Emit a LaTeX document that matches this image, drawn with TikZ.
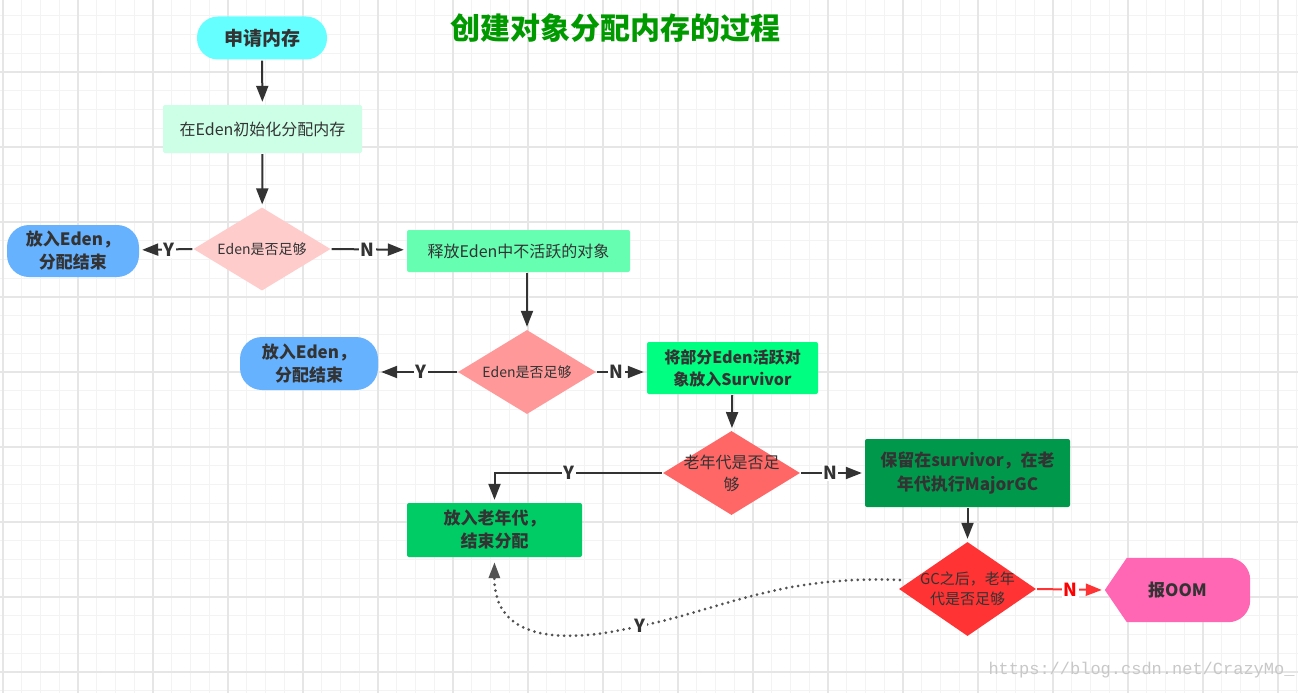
\documentclass[tikz,border=0pt]{standalone}
\usepackage{fontspec}
\setmainfont{Noto Sans CJK SC}
\setmonofont{Liberation Mono}
\usepackage{tikz}
\usetikzlibrary{arrows.meta}
\usetikzlibrary{shapes.geometric}
\definecolor{textgray}{HTML}{333333}
\definecolor{linegray}{HTML}{333333}
\definecolor{minorgrid}{HTML}{F3F3F3}
\definecolor{majorgrid}{HTML}{E6E6E6}
\definecolor{titlegreen}{HTML}{009900}
\definecolor{reqcyan}{HTML}{66FFFF}
\definecolor{initmint}{HTML}{CCFFE6}
\definecolor{chkpink}{HTML}{FFCCCC}
\definecolor{putblue}{HTML}{66B2FF}
\definecolor{relgreen}{HTML}{66FFB2}
\definecolor{chksalmon}{HTML}{FF9999}
\definecolor{survgreen}{HTML}{00FF80}
\definecolor{chkred}{HTML}{FF6666}
\definecolor{oldgreen}{HTML}{00CC66}
\definecolor{keepgreen}{HTML}{00994C}
\definecolor{chkdeep}{HTML}{FF3333}
\definecolor{oompink}{HTML}{FF66B3}
\definecolor{oomred}{HTML}{FF3333}
\definecolor{wmgray}{HTML}{C8C8C8}
\newcommand{\fs}[1]{\fontsize{#1}{#1}\selectfont}

\begin{document}
\begin{tikzpicture}[x=1pt, y=-1pt,
    box/.style={rectangle, rounded corners=2pt, text=textgray, align=center},
    term/.style={rectangle, rounded corners=21pt, text=textgray, align=center},
    decision/.style={diamond, inner sep=0pt, minimum width=137pt, minimum height=84pt},
    dtext/.style={text=textgray, align=center, font=\fontsize{15}{20}\selectfont},
    flow/.style={draw=linegray, line width=2pt, -{Triangle[length=16pt,width=12pt]}, shorten >=3pt, shorten <=1pt},
    yn/.style={fill=white, inner sep=1.5pt, text=textgray, font=\bfseries\fs{18}}]
        \useasboundingbox (0,0) rectangle (1298,693);
        \fill[white] (0,0) rectangle (1298,693);

        % grid
        \foreach \k in {0,...,69}
            \draw[minorgrid, line width=1pt] ({3+18.75*\k},0) -- ({3+18.75*\k},693);
        \foreach \k in {0,...,36}
            \draw[minorgrid, line width=1pt] (0,{15.75+18.75*\k}) -- (1298,{15.75+18.75*\k});
        \foreach \k in {0,...,17}
            \draw[majorgrid, line width=1.6pt] ({3+75*\k},0) -- ({3+75*\k},693);
        \foreach \k in {0,...,8}
            \draw[majorgrid, line width=1.6pt] (0,{72+75*\k}) -- (1298,{72+75*\k});

        \node[text=titlegreen, font=\bfseries\fs{30}] (title) at (615,28) {创建对象分配内存的过程};

        % row1
        \node[term, fill=reqcyan, minimum width=130pt, minimum height=43pt, font=\bfseries\fs{19}] (req) at (262,38) {申请内存};
        \node[box, fill=initmint, minimum width=199pt, minimum height=48pt, font=\fs{16}] (init) at (262.5,129) {在Eden初始化分配内存};

        % row2
        \node[decision, fill=chkpink, minimum height=83pt, label={[dtext, font=\fs{14}]center:Eden是否足够}] (chk1) at (262,249) {};
        \node[term, fill=putblue, rounded corners=22pt, minimum width=132pt, minimum height=52pt, font=\bfseries\fontsize{17}{23}\selectfont] (put1) at (73,251) {放入Eden，\\分配结束};
        \node[box, fill=relgreen, minimum width=223pt, minimum height=42pt, font=\fs{16}] (rel) at (518.5,251) {释放Eden中不活跃的对象};

        % row3
        \node[decision, fill=chksalmon, minimum width=138pt, label={[dtext, font=\fs{14}]center:Eden是否足够}] (chk2) at (527,372) {};
        \node[term, fill=putblue, rounded corners=22pt, minimum width=138pt, minimum height=53pt, font=\bfseries\fontsize{17}{23}\selectfont] (put2) at (309,363.5) {放入Eden，\\分配结束};
        \node[box, fill=survgreen, minimum width=171pt, minimum height=52pt, font=\bfseries\fontsize{16}{22}\selectfont] (surv) at (732.5,368) {将部分Eden活跃对\\象放入Survivor};

        % row4
        \node[decision, fill=chkred, label={[dtext, font=\fontsize{16}{22}\selectfont]center:老年代是否足\\够}] (chk3) at (731.5,473) {};
        \node[box, fill=oldgreen, minimum width=175pt, minimum height=54pt, font=\bfseries\fontsize{17}{23}\selectfont] (old) at (494.5,530) {放入老年代，\\结束分配};
        \node[box, fill=keepgreen, minimum width=205pt, minimum height=68pt, font=\bfseries\fontsize{17}{24}\selectfont] (keep) at (967.5,473) {保留在survivor，在老\\年代执行MajorGC};

        % row5
        \node[decision, fill=chkdeep, minimum height=94pt, label={[dtext, font=\fontsize{15}{20}\selectfont]center:GC之后，老年\\代是否足够}] (chk4) at (967.5,589) {};
        \node[minimum width=145pt, minimum height=64pt, inner sep=0pt] (oom) at (1177.5,590) {};
        \fill[oompink] (oom.west) -- ([xshift=22pt]oom.north west) -- ([xshift=-22pt]oom.north east)
            arc[start angle=90, end angle=0, radius=22pt] -- ([yshift=22pt]oom.south east)
            arc[start angle=0, end angle=-90, radius=22pt] -- ([xshift=22pt]oom.south west) -- cycle;
        \node[text=textgray, font=\bfseries\fs{17}] at (oom) {报OOM};

        % arrows
        \draw[flow] (req) -- (init);
        \draw[flow] (init) -- (chk1);
        \draw[flow] (chk1.west) -- node[yn, pos=0.45] {Y} (put1);
        \draw[flow] (chk1.east) -- node[yn, pos=0.48] {N} (rel);
        \draw[flow] (chk2.north |- rel.south) -- (chk2);
        \draw[flow] (chk2.west) -- node[yn, pos=0.46] {Y} (put2.east |- chk2.west);
        \draw[flow] (chk2.east) -- node[yn, pos=0.40] {N} (surv.west |- chk2.east);
        \draw[flow] (surv) -- (chk3);
        \draw[flow] (chk3.west) -| node[yn, pos=0.28] {Y} (old.north);
        \draw[flow] (chk3.east) -- node[yn, pos=0.46] {N} (keep.west |- chk3.east);
        \draw[flow] (keep) -- (chk4);
        \draw[flow, draw=oomred, -{Triangle[length=16pt,width=12pt,fill=oomred]}] (chk4.east) -- node[yn, text=red, pos=0.5] {N} (oom.west);
        \draw[draw=linegray!85, line width=3pt, line cap=round, dash pattern=on 0pt off 6pt,
              -{Triangle[length=16pt,width=11pt]}, shorten >=5pt]
            ([xshift=1pt,yshift=9pt]chk4.west) .. controls (780,575) and (720,610) .. (640,626)
            node[yn] {Y} .. controls (560,645) and (494,640) .. (old.south);

        \node[text=wmgray, anchor=west, font=\ttfamily\fs{17}] (mark) at (985,670) {https://blog.csdn.net/CrazyMo\_};
\end{tikzpicture}
\end{document}
